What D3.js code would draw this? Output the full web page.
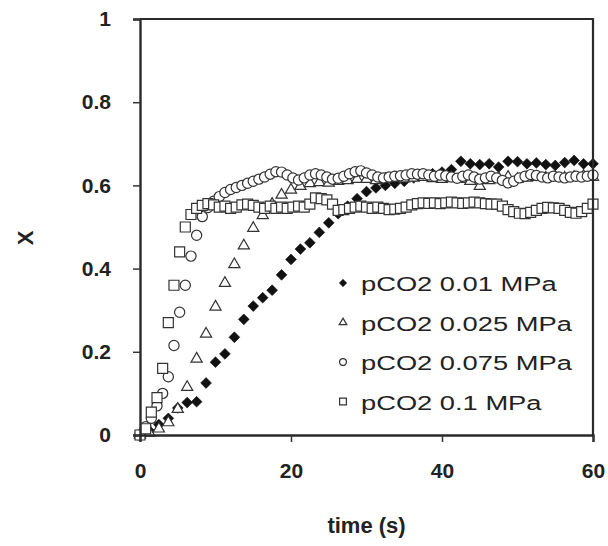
<!DOCTYPE html>
<html>
<head>
<meta charset="utf-8">
<script src="https://cdn.jsdelivr.net/npm/d3@7/dist/d3.min.js"></script>
<style>
  html, body { margin: 0; padding: 0; background: #fff; }
  svg { display: block; }
  text { font-family: "Liberation Sans", Arial, sans-serif; fill: #222; }
</style>
</head>
<body>
<div id="chart"></div>
<script>
// ---------------- data ----------------
const seriesNames = ["pCO2 0.01 MPa", "pCO2 0.025 MPa", "pCO2 0.075 MPa", "pCO2 0.1 MPa"];
const xTicks = [0, 20, 40, 60];
const yTicks = [0, 0.2, 0.4, 0.6, 0.8, 1];
const xTickLabels = ["0", "20", "40", "60"];
const yTickLabels = ["0", "0.2", "0.4", "0.6", "0.8", "1"];

// pCO2 0.01 MPa (filled diamonds)
const timeD = [0,1.25,2.5,3.75,5,6.25,7.5,8.75,10,11.25,12.5,13.75,15,16.25,17.5,18.75,20,21.25,22.5,23.75,25,26.25,27.5,28.75,30,31.25,32.5,33.75,35,36.25,37.5,38.75,40,41.25,42.5,43.75,45,46.25,47.5,48.75,50,51.25,52.5,53.75,55,56.25,57.5,58.75,60];
const xD = [0,0.01,0.025,0.04,0.065,0.078,0.08,0.125,0.175,0.195,0.235,0.278,0.31,0.33,0.348,0.385,0.422,0.447,0.462,0.487,0.51,0.532,0.55,0.568,0.585,0.594,0.6,0.605,0.61,0.618,0.625,0.628,0.632,0.638,0.658,0.652,0.65,0.652,0.644,0.658,0.657,0.652,0.654,0.65,0.648,0.655,0.66,0.652,0.652];

// pCO2 0.025 MPa (open triangles)
const timeT = [0,1.25,2.5,3.75,5,6.25,7.5,8.75,10,11.25,12.5,13.75,15,16.25,17.5,18.75,20,21.25,22.5,23.75,25,26.25,27.5,28.75,30,31.25,32.5,33.75,35,36.25,37.5,38.75,40,41.25,42.5,43.75,45,46.25,47.5,48.75,50,51.25,52.5,53.75,55,56.25,57.5,58.75,60];
const xT = [0,0.005,0.015,0.03,0.062,0.115,0.183,0.243,0.308,0.365,0.41,0.455,0.497,0.528,0.555,0.577,0.589,0.598,0.605,0.607,0.606,0.61,0.612,0.615,0.615,0.612,0.615,0.618,0.616,0.618,0.62,0.617,0.615,0.618,0.615,0.61,0.598,0.612,0.618,0.62,0.615,0.618,0.62,0.618,0.62,0.618,0.62,0.622,0.62];

// pCO2 0.075 MPa (open circles)
const timeC = [0,0.75,1.5,2.25,3,3.75,4.5,5.25,6,6.75,7.5,8.25,9,9.75,10.5,11.25,12,12.75,13.5,14.25,15,15.75,16.5,17.25,18,18.75,19.5,20.25,21,21.75,22.5,23.25,24,24.75,25.5,26.25,27,27.75,28.5,29.25,30,30.75,31.5,32.25,33,33.75,34.5,35.25,36,36.75,37.5,38.25,39,39.75,40.5,41.25,42,42.75,43.5,44.25,45,45.75,46.5,47.25,48,48.75,49.5,50.25,51,51.75,52.5,53.25,54,54.75,55.5,56.25,57,57.75,58.5,59.25,60];
const xC = [0,0.02,0.04,0.07,0.1,0.14,0.215,0.295,0.36,0.43,0.48,0.525,0.547,0.562,0.573,0.583,0.59,0.595,0.6,0.605,0.61,0.615,0.62,0.627,0.633,0.632,0.625,0.618,0.613,0.618,0.625,0.628,0.625,0.62,0.615,0.617,0.622,0.628,0.633,0.635,0.63,0.625,0.62,0.618,0.62,0.622,0.623,0.625,0.628,0.627,0.628,0.625,0.622,0.625,0.623,0.62,0.617,0.622,0.625,0.62,0.615,0.618,0.622,0.618,0.612,0.606,0.61,0.618,0.622,0.626,0.624,0.62,0.618,0.622,0.62,0.618,0.62,0.622,0.62,0.622,0.625];

// pCO2 0.1 MPa (open squares)
const timeS = [0,0.75,1.5,2.25,3,3.75,4.5,5.25,6,6.75,7.5,8.25,9,9.75,10.5,11.25,12,12.75,13.5,14.25,15,15.75,16.5,17.25,18,18.75,19.5,20.25,21,21.75,22.5,23.25,24,24.75,25.5,26.25,27,27.75,28.5,29.25,30,30.75,31.5,32.25,33,33.75,34.5,35.25,36,36.75,37.5,38.25,39,39.75,40.5,41.25,42,42.75,43.5,44.25,45,45.75,46.5,47.25,48,48.75,49.5,50.25,51,51.75,52.5,53.25,54,54.75,55.5,56.25,57,57.75,58.5,59.25,60];
const xS = [0,0.015,0.055,0.09,0.16,0.27,0.36,0.44,0.5,0.53,0.545,0.552,0.556,0.553,0.548,0.55,0.545,0.548,0.553,0.555,0.552,0.548,0.545,0.55,0.545,0.548,0.545,0.548,0.55,0.548,0.555,0.57,0.568,0.565,0.555,0.54,0.542,0.545,0.548,0.55,0.548,0.545,0.548,0.545,0.542,0.543,0.545,0.548,0.553,0.556,0.558,0.557,0.558,0.556,0.558,0.56,0.558,0.557,0.558,0.56,0.558,0.556,0.555,0.555,0.55,0.542,0.537,0.533,0.532,0.535,0.54,0.545,0.547,0.546,0.545,0.54,0.535,0.533,0.537,0.545,0.555];

// ---------------- chart ----------------
const W = 608, H = 546;
const svg = d3.select("#chart").append("svg").attr("width", W).attr("height", H);

const x = d3.scaleLinear().domain([0, 60]).range([140, 593]);
const y = d3.scaleLinear().domain([0, 1]).range([435, 19]);

const ink = "#222";

const series = [
  { name: seriesNames[0], t: timeD, v: xD, shape: "diamond" },
  { name: seriesNames[1], t: timeT, v: xT, shape: "triangle" },
  { name: seriesNames[2], t: timeC, v: xC, shape: "circle" },
  { name: seriesNames[3], t: timeS, v: xS, shape: "square" }
];

function symbolPath(shape, scale) {
  const s = scale || 1;
  if (shape === "diamond") return d3.symbol(d3.symbolSquare, 58 * s * s)();
  if (shape === "triangle") return d3.symbol(d3.symbolTriangle, 54 * s * s)();
  if (shape === "circle") return d3.symbol(d3.symbolCircle, 82 * s * s)();
  return d3.symbol(d3.symbolSquare, 100 * s * s)();
}
function styleMarker(sel, shape) {
  sel.attr("fill", shape === "diamond" ? "#111" : "#fff")
     .attr("stroke", shape === "diamond" ? "#111" : "#333")
     .attr("stroke-width", shape === "diamond" ? 0.6 : 1.2);
}

// markers
series.forEach(s => {
  const pts = s.t.map((t, i) => ({ t: t, v: s.v[i] }));
  const g = svg.append("g").attr("class", "series");
  g.selectAll("path").data(pts).enter().append("path")
    .attr("d", symbolPath(s.shape))
    .attr("transform", d => `translate(${x(d.t)},${y(d.v)})` + (s.shape === "diamond" ? " rotate(45)" : ""))
    .call(sel => styleMarker(sel, s.shape));
});

// frame (top and right)
svg.append("path")
  .attr("d", `M${x(0)},${y(1)}H${x(60)}V${y(0)}`)
  .attr("fill", "none").attr("stroke", "#2a2a2a").attr("stroke-width", 2.2);

// axes
const xAxis = d3.axisBottom(x).tickValues(xTicks).tickFormat((d, i) => xTickLabels[i]).tickSize(7).tickPadding(21);
const yAxis = d3.axisLeft(y).tickValues(yTicks).tickFormat((d, i) => yTickLabels[i]).tickSize(7).tickPadding(22);

const gx = svg.append("g").attr("transform", `translate(0,${y(0)})`).call(xAxis);
const gy = svg.append("g").attr("transform", `translate(${x(0)},0)`).call(yAxis);
[gx, gy].forEach(g => {
  g.select(".domain").attr("stroke", "#2a2a2a").attr("stroke-width", 2.4);
  g.selectAll(".tick line").attr("stroke", "#333").attr("stroke-width", 1.5);
  g.selectAll(".tick text").attr("font-size", 21).attr("font-weight", "bold")
    .attr("fill", ink).attr("font-family", "'Liberation Sans', Arial, sans-serif");
});

// axis titles
svg.append("text")
  .attr("x", (x(0) + x(60)) / 2).attr("y", 533)
  .attr("text-anchor", "middle")
  .attr("font-size", 22).attr("font-weight", "bold")
  .text("time (s)");

svg.append("text")
  .attr("transform", `translate(33,238) rotate(-90)`)
  .attr("text-anchor", "middle")
  .attr("font-size", 22).attr("font-weight", "bold")
  .text("X");

// legend
const legend = svg.append("g").attr("transform", "translate(343,283)");
series.forEach((s, i) => {
  const row = legend.append("g").attr("transform", `translate(0,${i * 39.5})`);
  row.append("path")
    .attr("d", symbolPath(s.shape, 0.68))
    .attr("transform", s.shape === "diamond" ? "rotate(45)" : null)
    .call(sel => styleMarker(sel, s.shape));
  row.append("text")
    .attr("transform", "translate(18,8) scale(1.3,1)")
    .attr("font-size", 21)
    .attr("fill", "#333")
    .text(s.name);
});
</script>
</body>
</html>
